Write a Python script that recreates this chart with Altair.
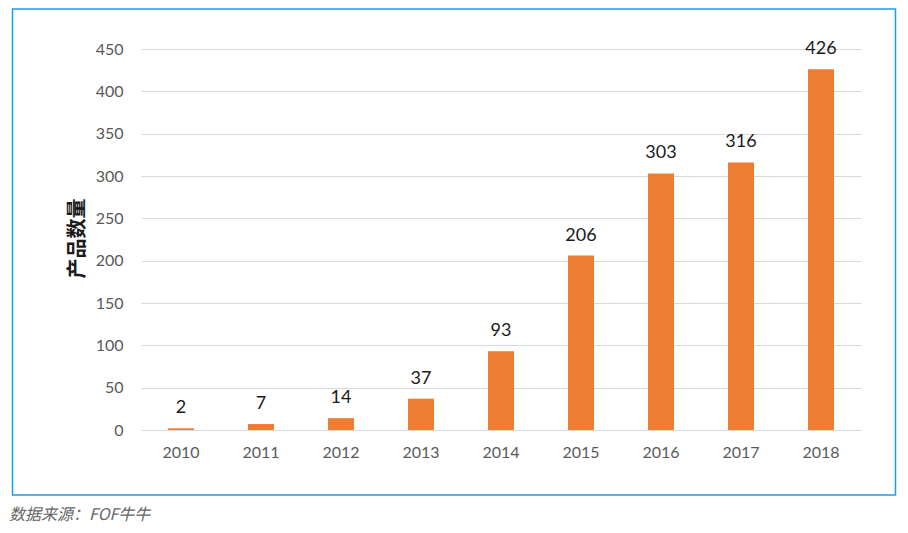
import altair as alt
import pandas as pd

years = ["2010", "2011", "2012", "2013", "2014", "2015", "2016", "2017", "2018"]
counts = [2, 7, 14, 37, 93, 206, 303, 316, 426]
y_title = "产品数量"
caption = "数据来源：FOF牛牛"

df = pd.DataFrame({"year": years, "count": counts})

x_enc = alt.X("year:N", sort=years,
              scale=alt.Scale(paddingInner=0.675, paddingOuter=0.3375),
              axis=alt.Axis(title=None, labelAngle=0, domain=False, ticks=False,
                            labelPadding=14, labelFont="Lato", labelFontSize=16,
                            labelColor="#595959", grid=False))
y_enc = alt.Y("count:Q", scale=alt.Scale(domain=[0, 450], nice=False),
              axis=alt.Axis(values=list(range(0, 451, 50)), title=y_title,
                            domain=False, ticks=False, labelPadding=18,
                            labelFont="Lato", labelFontSize=16, labelColor="#595959",
                            gridColor="#d9d9d9", gridWidth=1,
                            titleFont="Noto Sans CJK SC", titleFontSize=20,
                            titleFontWeight="bold", titleColor="#1a1a1a",
                            titleAngle=270, titleX=-64, titleY=189,
                            titleAlign="center", titleBaseline="middle"))

bars = alt.Chart(df).mark_bar(color="#ED7D31").encode(x=x_enc, y=y_enc)

labels = alt.Chart(df).mark_text(baseline="middle", dy=-20, font="Lato",
                                 fontSize=18, color="#1a1a1a").encode(
    x=alt.X("year:N", sort=years), y="count:Q", text="count:Q")

one = pd.DataFrame({"a": [0]})
border = alt.Chart(one).mark_rect(fill=None, stroke="#1E9BE8", strokeWidth=1.5).encode(
    x=alt.value(-128.5), x2=alt.value(754.5), y=alt.value(-40), y2=alt.value(446))

cap = alt.Chart(one).mark_text(align="left", baseline="middle", font="Noto Sans CJK SC",
                               fontSize=16, fontStyle="italic", color="#666666",
                               text=caption).encode(
    x=alt.value(-132), y=alt.value(466))

chart = alt.layer(bars, labels, border, cap).properties(
    width=720, height=381,
    autosize=alt.AutoSizeParams(type="none"),
    padding={"left": 133, "top": 41, "right": 39, "bottom": 95},
    background="white",
).configure_view(stroke=None)

chart.save("out.html", embed_options={"renderer": "svg", "actions": False})
